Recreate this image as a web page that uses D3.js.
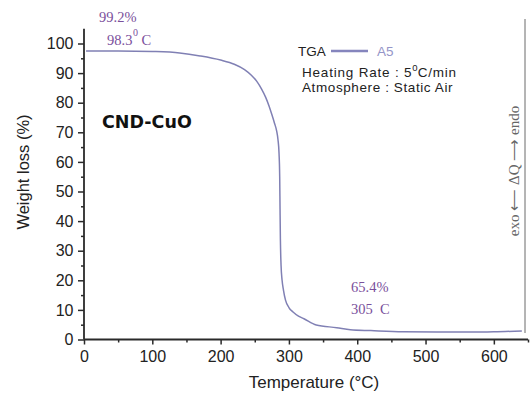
<!DOCTYPE html>
<html><head><meta charset="utf-8">
<script src="https://cdn.jsdelivr.net/npm/d3@7"></script>
<style>body{margin:0;background:#fff}svg{display:block}text{white-space:pre}</style>
</head><body>
<svg id="c" width="532" height="396"></svg>
<script>
const temps = [3, 50, 100, 140, 170, 200, 220, 235, 245, 253, 260, 266, 271, 275, 279, 282, 284, 285.5, 286.5, 287, 287.5, 288.5, 290, 292, 295, 300, 306, 314, 322, 340, 370, 390, 420, 467, 516, 565, 600, 641];
const weights = [97.5, 97.5, 97.3, 96.8, 95.8, 94.4, 93, 91.2, 89.3, 87.2, 84.6, 81.8, 78.8, 76, 73, 70.5, 67.5, 63, 55, 44, 34, 25, 20, 16.7, 13.3, 10.8, 9.3, 7.9, 7.0, 4.9, 4.0, 3.3, 3.0, 2.6, 2.5, 2.5, 2.6, 2.9];
const xTicks = [0, 100, 200, 300, 400, 500, 600];
const xMinor = [50, 150, 250, 350, 450, 550, 650];
const yTicks = [0, 10, 20, 30, 40, 50, 60, 70, 80, 90, 100];
const yMinor = [5, 15, 25, 35, 45, 55, 65, 75, 85, 95];

const svg = d3.select("#c");
const x = d3.scaleLinear().domain([0, 650]).range([84, 528]);
const y = d3.scaleLinear().domain([0, 100]).range([339.5, 43.5]);
const axisColor = "#2a2a2a";
const sans = "Liberation Sans, Arial, sans-serif";
const serif = "Liberation Serif, Times New Roman, serif";

// right frame line
svg.append("line").attr("x1", 525).attr("x2", 525).attr("y1", 19).attr("y2", 333)
  .attr("stroke", "#6a6a6a").attr("stroke-width", 1);

// axes
const gx = svg.append("g").attr("transform", `translate(0,${y(0)})`)
  .call(d3.axisBottom(x).tickValues(xTicks).tickSize(5).tickPadding(6).tickFormat(d3.format("d")));
const gxm = svg.append("g").attr("transform", `translate(0,${y(0)})`)
  .call(d3.axisBottom(x).tickValues(xMinor).tickSize(3).tickFormat(""));
const gy = svg.append("g").attr("transform", `translate(${x(0)},0)`)
  .call(d3.axisLeft(y).tickValues(yTicks).tickSize(6).tickPadding(4.5).tickFormat(d3.format("d")));
const gym = svg.append("g").attr("transform", `translate(${x(0)},0)`)
  .call(d3.axisLeft(y).tickValues(yMinor).tickSize(3).tickFormat(""));
[gx, gxm, gy, gym].forEach(g => {
  g.select(".domain").remove();
  g.selectAll("line").attr("stroke", axisColor).attr("stroke-width", 1.5);
  g.selectAll("text").attr("fill", "#222").style("font-family", sans).style("font-size", "16px");
});
svg.append("line").attr("x1", x(0)).attr("x2", x(650)).attr("y1", y(0)).attr("y2", y(0))
  .attr("stroke", axisColor).attr("stroke-width", 1.8);
svg.append("line").attr("x1", x(0)).attr("x2", x(0)).attr("y1", y(0)).attr("y2", y(105))
  .attr("stroke", axisColor).attr("stroke-width", 1.8);

// curve
const data = temps.map((t, i) => [t, weights[i]]);
svg.append("path").datum(data)
  .attr("d", d3.line().x(d => x(d[0])).y(d => y(d[1])).curve(d3.curveMonotoneX))
  .attr("fill", "none").attr("stroke", "#8080b4").attr("stroke-width", 1.5);

// axis titles
svg.append("text").attr("x", 314).attr("y", 388).attr("text-anchor", "middle")
  .style("font-family", sans).style("font-size", "17px").attr("fill", "#222").text("Temperature (°C)");
svg.append("text").attr("transform", "translate(28.5,172) rotate(-90)").attr("text-anchor", "middle")
  .style("font-family", sans).style("font-size", "16.5px").attr("fill", "#222").text("Weight loss (%)");

// annotations
const purple = "#7a509c";
function t(xp, yp, s, opts = {}) {
  return svg.append("text").attr("x", xp).attr("y", yp).text(s)
    .style("font-family", opts.font || serif).style("font-size", (opts.size || 14.5) + "px")
    .attr("fill", opts.fill || purple).attr("text-anchor", opts.anchor || "start")
    .style("font-weight", opts.weight || "normal")
    .style("letter-spacing", (opts.ls || 0) + "px");
}
t(99, 22, "99.2%");
const a2 = t(107, 45, "98.3");
a2.append("tspan").attr("dx", 0.5).attr("dy", -9).style("font-size", "10px").text("0");
a2.append("tspan").attr("dy", 9).text(" C");
t(351, 292, "65.4%");
t(351, 314, "305  C");

t(102, 128, "CND-CuO", {font: "DejaVu Sans, sans-serif", size: 17.5, weight: "bold", fill: "#111"});

// legend
t(298, 55.5, "TGA", {font: sans, fill: "#222", size: 13.5});
svg.append("line").attr("x1", 331).attr("x2", 368).attr("y1", 51).attr("y2", 51)
  .attr("stroke", "#8585bd").attr("stroke-width", 2.5);
t(377, 55.5, "A5", {font: sans, fill: "#9595c8", size: 13.5});
const hr = t(302, 77, "Heating Rate : 5", {font: sans, fill: "#222", size: 13.5, ls: 0.8});
hr.append("tspan").attr("dy", -6).style("font-size", "9.5px").style("letter-spacing", "0px").text("0");
hr.append("tspan").attr("dy", 6).text("C/min");
t(302, 91.5, "Atmosphere : Static Air", {font: sans, fill: "#222", size: 13.5, ls: 0.6});

// right side label
svg.append("text").attr("transform", "translate(519,171) rotate(-90)").attr("text-anchor", "middle")
  .style("font-family", serif).style("font-size", "15px").attr("fill", "#666")
  .text("exo \u27F5 \u0394Q \u27F6 endo");
</script>
</body></html>
